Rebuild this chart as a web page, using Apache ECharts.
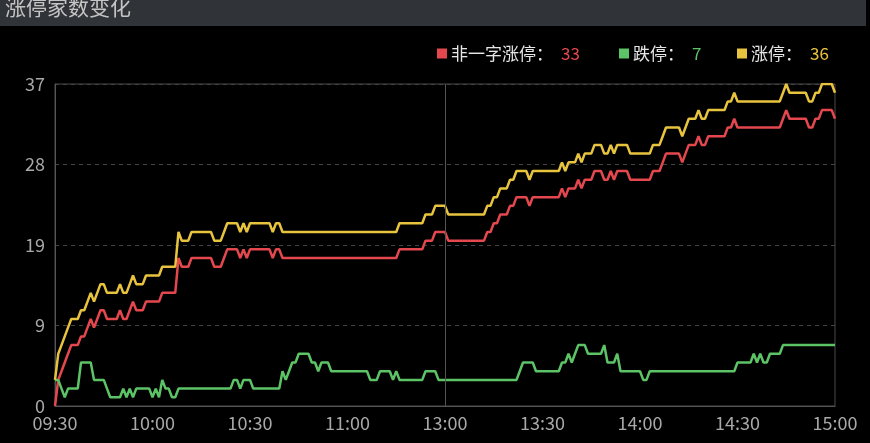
<!DOCTYPE html>
<html><head><meta charset="utf-8">
<script src="https://cdn.jsdelivr.net/npm/echarts@6/dist/echarts.min.js"></script>
<style>html,body{margin:0;padding:0;background:#000;}#c{width:870px;height:443px;}</style>
</head><body><div id="c"></div>
<script>
const titleText = '涨停家数变化';
const seriesNames = ['非一字涨停', '跌停', '涨停'];
const yTickLabels = ['0', '9', '19', '28', '37'];
const xTickLabels = ['09:30', '10:00', '10:30', '11:00', '13:00', '13:30', '14:00', '14:30', '15:00'];

// one category per trading minute: 09:30-11:29 and 13:00-15:00
const times = [];
function pushRange(h1, m1, h2, m2) {
  for (let t = h1 * 60 + m1; t <= h2 * 60 + m2; t++) {
    times.push(String(Math.floor(t / 60)).padStart(2, '0') + ':' + String(t % 60).padStart(2, '0'));
  }
}
pushRange(9, 30, 11, 29);
pushRange(13, 0, 15, 0);

const nonOneWordLimitUp = [
  0,3,4,5,6,7,7,7,8,8,
  9,10,9,10,11,11,10,10,10,10,
  11,10,10,11,12,11,11,11,12,12,
  12,12,12,13,13,13,13,13,17,16,
  16,16,17,17,17,17,17,17,17,16,
  16,16,17,18,18,18,18,17,18,17,
  18,18,18,18,18,18,18,17,18,18,
  17,17,17,17,17,17,17,17,17,17,
  17,17,17,17,17,17,17,17,17,17,
  17,17,17,17,17,17,17,17,17,17,
  17,17,17,17,17,17,18,18,18,18,
  18,18,18,18,19,19,19,20,20,20,
  20,19,19,19,19,19,19,19,19,19,
  19,19,19,20,20,21,21,22,22,22,
  23,23,24,24,24,24,23,24,24,24,
  24,24,24,24,24,24,25,24,25,25,
  25,26,25,26,26,26,27,27,27,26,
  26,27,26,27,27,27,27,26,26,26,
  26,26,26,26,27,27,27,28,29,29,
  29,29,29,28,29,30,30,30,31,30,
  30,31,31,31,31,31,31,32,32,33,
  32,32,32,32,32,32,32,32,32,32,
  32,32,32,32,33,34,33,33,33,33,
  33,33,32,32,33,33,34,34,34,34,
  33
];
const limitDown = [
  3,3,2,1,2,2,2,2,5,5,
  5,5,3,3,3,3,2,1,1,1,
  1,2,1,2,1,2,2,2,2,2,
  1,2,1,3,2,2,1,1,2,2,
  2,2,2,2,2,2,2,2,2,2,
  2,2,2,2,2,3,3,2,3,3,
  3,2,2,2,2,2,2,2,2,2,
  4,3,4,5,5,6,6,6,6,5,
  5,4,5,5,5,4,4,4,4,4,
  4,4,4,4,4,4,4,3,3,3,
  4,4,4,4,3,4,3,3,3,3,
  3,3,3,3,4,4,4,4,3,3,
  3,3,3,3,3,3,3,3,3,3,
  3,3,3,3,3,3,3,3,3,3,
  3,3,3,4,5,5,5,5,4,4,
  4,4,4,4,4,4,5,5,6,5,
  6,7,7,7,6,6,6,6,6,7,
  5,5,5,6,4,4,4,4,4,4,
  4,3,3,4,4,4,4,4,4,4,
  4,4,4,4,4,4,4,4,4,4,
  4,4,4,4,4,4,4,4,4,4,
  5,5,5,5,5,6,5,6,5,5,
  6,6,6,6,7,7,7,7,7,7,
  7,7,7,7,7,7,7,7,7,7,
  7
];
const limitUp = [
  3,6,7,8,9,10,10,10,11,11,
  12,13,12,13,14,14,13,13,13,13,
  14,13,13,14,15,14,14,14,15,15,
  15,15,15,16,16,16,16,16,20,19,
  19,19,20,20,20,20,20,20,20,19,
  19,19,20,21,21,21,21,20,21,20,
  21,21,21,21,21,21,21,20,21,21,
  20,20,20,20,20,20,20,20,20,20,
  20,20,20,20,20,20,20,20,20,20,
  20,20,20,20,20,20,20,20,20,20,
  20,20,20,20,20,20,21,21,21,21,
  21,21,21,21,22,22,22,23,23,23,
  23,22,22,22,22,22,22,22,22,22,
  22,22,22,23,23,24,24,25,25,25,
  26,26,27,27,27,27,26,27,27,27,
  27,27,27,27,27,27,28,27,28,28,
  28,29,28,29,29,29,30,30,30,29,
  29,30,29,30,30,30,30,29,29,29,
  29,29,29,29,30,30,30,31,32,32,
  32,32,32,31,32,33,33,33,34,33,
  33,34,34,34,34,34,34,35,35,36,
  35,35,35,35,35,35,35,35,35,35,
  35,35,35,35,36,37,36,36,36,36,
  36,36,35,35,36,36,37,37,37,37,
  36
];

const seriesData = [nonOneWordLimitUp, limitDown, limitUp];
const seriesColors = ['#e4484e', '#5cc466', '#e8c33e'];
const legendLeft = [437, 619, 737];
const FONT = "'Noto Sans CJK SC','Noto Sans',sans-serif";

const chart = echarts.init(document.getElementById('c'), null, {renderer: 'canvas'});
const option = {
  backgroundColor: '#000',
  animation: false,
  textStyle: {fontFamily: FONT},
  graphic: [
    {type: 'rect', left: 0, top: 0, silent: true, shape: {width: 866, height: 26}, style: {fill: '#303337'}},
    {type: 'text', left: 5, top: -3, silent: true, style: {text: titleText, fill: '#c4c4c4', font: '21px ' + FONT}}
  ],
  legend: seriesNames.map((n, k) => ({
    data: [n], left: legendLeft[k], top: 45, padding: 0, icon: 'rect', itemWidth: 10, itemHeight: 10, itemGap: 0,
    selectedMode: false,
    textStyle: {color: '#e6e6e6', fontSize: 17, fontFamily: FONT, padding: [0, 0, 0, -1],
      rich: {v: {color: seriesColors[k], fontSize: 17, fontFamily: FONT, padding: [0, 0, 0, 8]}}},
    formatter: name => name + '：{v|' + seriesData[k][seriesData[k].length - 1] + '}'
  })),
  grid: {left: 55, right: 35, top: 84, bottom: 37, show: true, borderColor: '#4a4a4a', borderWidth: 1, backgroundColor: 'transparent'},
  xAxis: {
    type: 'category', data: times, boundaryGap: false,
    axisLine: {lineStyle: {color: '#555'}}, axisTick: {show: false},
    axisLabel: {interval: 29, color: '#a8a8a8', fontSize: 18, fontFamily: FONT, margin: 8,
      formatter: v => (xTickLabels.indexOf(v) >= 0 ? v : '')},
    splitLine: {show: false}
  },
  yAxis: {
    type: 'value', min: 0, max: 37, interval: 9.25,
    axisLine: {show: true, lineStyle: {color: '#555'}}, axisTick: {show: false},
    axisLabel: {color: '#a8a8a8', fontSize: 18, fontFamily: FONT, margin: 10,
      formatter: v => yTickLabels[Math.round(v / 9.25)]},
    splitLine: {lineStyle: {color: '#444', type: [4, 4]}}
  },
  series: seriesNames.map((n, k) => ({
    name: n, type: 'line', data: seriesData[k], symbol: 'none', showSymbol: false,
    lineStyle: {width: 2.5, color: seriesColors[k]}, itemStyle: {color: seriesColors[k]},
    markLine: k === 0 ? {silent: true, symbol: ['none', 'none'], label: {show: false},
      lineStyle: {color: '#555', type: 'solid', width: 1}, data: [{xAxis: '13:00'}]} : undefined
  }))
};
chart.setOption(option);
</script>
</body></html>
